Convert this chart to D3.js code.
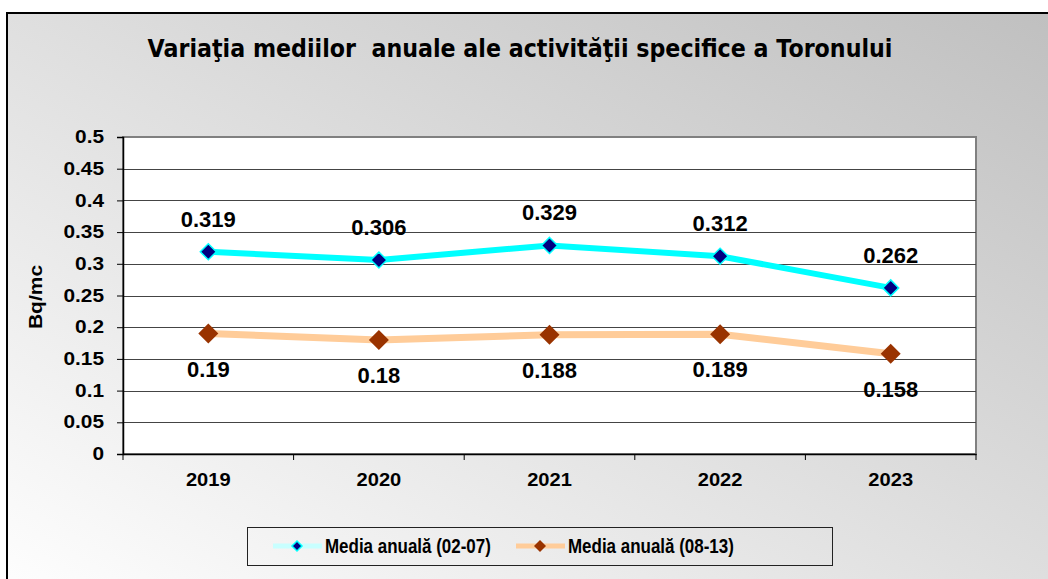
<!DOCTYPE html>
<html>
<head>
<meta charset="utf-8">
<script src="https://cdn.jsdelivr.net/npm/d3@7"></script>
<style>
  body { margin: 0; background: #fff; }
  svg { display: block; }
</style>
</head>
<body>
<div id="chart"></div>
<script>
  // datele graficului
  var ani = ["2019", "2020", "2021", "2022", "2023"];
  var media0207 = [0.319, 0.306, 0.329, 0.312, 0.262];
  var media0813 = [0.19, 0.18, 0.188, 0.189, 0.158];
  var numeSerii = ["Media anuală (02-07)", "Media anuală (08-13)"];
  var yTicks = [0, 0.05, 0.1, 0.15, 0.2, 0.25, 0.3, 0.35, 0.4, 0.45, 0.5];

  var W = 1048, H = 579;
  var plot = {left: 123, top: 137, right: 976, bottom: 454};
  var fontAx = "Liberation Sans, Arial, sans-serif";

  var svg = d3.select("#chart").append("svg")
    .attr("width", W).attr("height", H);

  // textul din original e putin latit sau ingustat pe orizontala
  function scrie(g, x, y, txt, size, sx, anchor, rot) {
    return g.append("text")
      .attr("transform", "translate(" + x + "," + y + ")" + (rot ? " rotate(" + rot + ")" : "") + " scale(" + sx + ",1)")
      .attr("text-anchor", anchor || "middle")
      .style("font-family", fontAx).style("font-weight", "bold")
      .style("font-size", size + "px")
      .text(txt);
  }

  // fundal cu gradient
  var grad = svg.append("defs").append("linearGradient")
    .attr("id", "bg")
    .attr("x1", 0).attr("y1", 1).attr("x2", 1).attr("y2", 0);
  grad.append("stop").attr("offset", "0%").attr("stop-color", "#ffffff");
  grad.append("stop").attr("offset", "100%").attr("stop-color", "#bfbfbf");

  svg.append("rect")
    .attr("x", 7).attr("y", 13).attr("width", W + 20).attr("height", H + 20)
    .attr("fill", "url(#bg)")
    .attr("stroke", "#000").attr("stroke-width", 2);

  // titlu
  scrie(svg, 520, 57, "Variaţia mediilor  anuale ale activităţii specifice a Toronului", 24, 0.925)
    .style("font-family", "DejaVu Sans, Verdana, sans-serif")
    .attr("xml:space", "preserve");

  var x = d3.scaleBand().domain(ani).range([plot.left, plot.right]);
  var y = d3.scaleLinear().domain([0, 0.5]).range([plot.bottom, plot.top]);

  // zona graficului
  svg.append("rect")
    .attr("x", plot.left).attr("y", plot.top)
    .attr("width", plot.right - plot.left).attr("height", plot.bottom - plot.top)
    .attr("fill", "#fff")
    .attr("stroke", "#808080").attr("stroke-width", 2);

  // linii de grila
  svg.append("g").selectAll("line")
    .data(yTicks.slice(1, -1)).enter().append("line")
    .attr("x1", plot.left).attr("x2", plot.right)
    .attr("y1", function(d) { return Math.round(y(d)) + 0.5; })
    .attr("y2", function(d) { return Math.round(y(d)) + 0.5; })
    .attr("stroke", "#444").attr("stroke-width", 1);

  // axa Y
  var yAxis = svg.append("g")
    .attr("transform", "translate(" + plot.left + ",0)")
    .call(d3.axisLeft(y).tickValues(yTicks).tickSize(6).tickPadding(13)
      .tickFormat(function(d) { return String(+d.toFixed(2)); }));
  yAxis.select(".domain").attr("stroke", "#000").attr("stroke-width", 1.5);
  yAxis.selectAll(".tick line").attr("stroke", "#000");
  yAxis.selectAll("text")
    .attr("transform", "translate(-19,0) scale(1.19,1)").attr("x", 0)
    .style("font-family", fontAx).style("font-weight", "bold")
    .style("font-size", "17.5px").attr("fill", "#000");

  // axa X
  var xAxis = svg.append("g")
    .attr("transform", "translate(0," + plot.bottom + ")")
    .call(d3.axisBottom(x).tickSize(0));
  xAxis.select(".domain").attr("stroke", "#000").attr("stroke-width", 1.5);
  xAxis.selectAll("text")
    .attr("transform", "translate(0,32) scale(1.15,1)").attr("y", 0).attr("dy", null)
    .style("font-family", fontAx).style("font-weight", "bold")
    .style("font-size", "17.5px").attr("fill", "#000");
  // marcaje intre categorii
  xAxis.selectAll(".sep")
    .data(ani.concat(["end"])).enter().append("line")
    .attr("x1", function(d, i) { return plot.left + i * x.step(); })
    .attr("x2", function(d, i) { return plot.left + i * x.step(); })
    .attr("y1", 0).attr("y2", 6)
    .attr("stroke", "#000");

  // titlul axei Y
  scrie(svg, 42, 297, "Bq/mc", 17.5, 1.2, "middle", -90);

  var cx = function(i) { return x(ani[i]) + x.bandwidth() / 2; };
  var line = d3.line()
    .x(function(d, i) { return cx(i); })
    .y(function(d) { return y(d); });

  var diamond = function(r) {
    return "M0," + (-r) + "L" + r + ",0L0," + r + "L" + (-r) + ",0Z";
  };

  // seria 08-13
  svg.append("path").datum(media0813)
    .attr("d", line).attr("fill", "none")
    .attr("stroke", "#FFCC99").attr("stroke-width", 7);
  svg.append("g").selectAll("path")
    .data(media0813).enter().append("path")
    .attr("transform", function(d, i) { return "translate(" + cx(i) + "," + y(d) + ")"; })
    .attr("d", diamond(10)).attr("fill", "#993300");

  // seria 02-07
  svg.append("path").datum(media0207)
    .attr("d", line).attr("fill", "none")
    .attr("stroke", "#00FFFF").attr("stroke-width", 6);
  svg.append("g").selectAll("path")
    .data(media0207).enter().append("path")
    .attr("transform", function(d, i) { return "translate(" + cx(i) + "," + y(d) + ")"; })
    .attr("d", diamond(8)).attr("fill", "#000080")
    .attr("stroke", "#00FFFF").attr("stroke-width", 1.5);

  // etichete de date
  var gl = svg.append("g");
  media0207.forEach(function(d, i) { scrie(gl, cx(i), y(d) - 25, d, 22, 1); });
  media0813.forEach(function(d, i) { scrie(gl, cx(i), y(d) + 43, d, 22, 1); });

  // legenda
  var leg = svg.append("g");
  leg.append("rect")
    .attr("x", 247.5).attr("y", 527.5).attr("width", 585).attr("height", 38)
    .attr("fill", "none").attr("stroke", "#222").attr("stroke-width", 1);
  var legItems = [
    {name: numeSerii[0], x: 273, line: "#C8FFFF", fill: "#000080", stroke: "#00FFFF", r: 5},
    {name: numeSerii[1], x: 516, line: "#FFCC99", fill: "#993300", stroke: "none", r: 6}
  ];
  legItems.forEach(function(it) {
    leg.append("line")
      .attr("x1", it.x).attr("x2", it.x + 49).attr("y1", 546).attr("y2", 546)
      .attr("stroke", it.line).attr("stroke-width", 5);
    leg.append("path")
      .attr("transform", "translate(" + (it.x + 24) + ",546)")
      .attr("d", diamond(it.r)).attr("fill", it.fill)
      .attr("stroke", it.stroke).attr("stroke-width", 1.5);
    scrie(leg, it.x + 52, 553, it.name, 19.5, 0.87, "start");
  });
</script>
</body>
</html>
